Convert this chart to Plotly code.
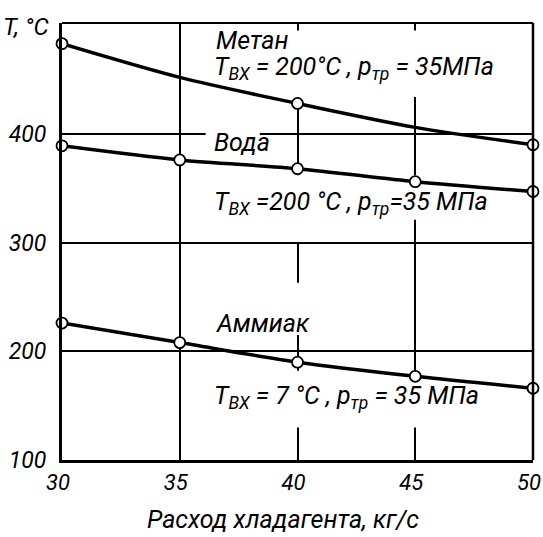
import plotly.graph_objects as go

# Data
x_vals = [30, 35, 40, 45, 50]
metan = [483, 452, 428, 406, 390]
voda = [389, 376, 368, 356, 347]
ammiak = [226, 208, 190, 177, 166]
metan_marked = [0, 2, 4]
voda_marked = [0, 1, 2, 3, 4]
ammiak_marked = [0, 1, 2, 3, 4]

x_ticks = [30, 35, 40, 45, 50]
y_ticks = [100, 200, 300, 400]

FONT = "Roboto, DejaVu Sans"

fig = go.Figure()

for ys, marked in [(metan, metan_marked), (voda, voda_marked), (ammiak, ammiak_marked)]:
    fig.add_trace(go.Scatter(x=x_vals, y=ys, mode="lines",
                             line=dict(color="black", width=3.5, shape="spline", smoothing=0.8),
                             hoverinfo="skip", showlegend=False, cliponaxis=False))
    fig.add_trace(go.Scatter(x=[x_vals[i] for i in marked], y=[ys[i] for i in marked],
                             mode="markers",
                             marker=dict(size=11, color="white", line=dict(color="black", width=1.8)),
                             showlegend=False, cliponaxis=False))

# white masks that break grid lines behind labels
masks = [
    (36.3, 48.8, 434, 495),
    (36.1, 38.4, 381, 404),
    (36.3, 48.8, 321, 362),
    (39.7, 40.3, 300.5, 322),
    (36.3, 40.6, 215, 263),
    (36.3, 48.0, 130, 182),
]
shapes = []
for x0, x1, y0, y1 in masks:
    shapes.append(dict(type="rect", xref="x", yref="y", x0=x0, x1=x1, y0=y0, y1=y1,
                       fillcolor="white", line=dict(width=0), layer="between"))
# top and right frame
shapes.append(dict(type="line", xref="x domain", yref="y domain", x0=0, x1=1, y0=1, y1=1,
                   line=dict(color="black", width=2)))
shapes.append(dict(type="line", xref="x domain", yref="y domain", x0=1, x1=1, y0=0, y1=1,
                   line=dict(color="black", width=2.5)))

tf = dict(family=FONT, size=25, color="black", style="italic")
annotations = [
    dict(x=36.45, y=486, text="Метан", xanchor="left", yanchor="middle"),
    dict(x=36.35, y=460.5, text="T<sub>ВХ</sub> = 200°C , p<sub>тр</sub> = 35МПа", xanchor="left", yanchor="middle"),
    dict(x=36.35, y=392.5, text="Вода", xanchor="left", yanchor="middle"),
    dict(x=36.35, y=336, text="T<sub>ВХ</sub> =200 °C , p<sub>тр</sub>=35 МПа", xanchor="left", yanchor="middle"),
    dict(x=36.45, y=226, text="Аммиак", xanchor="left", yanchor="middle"),
    dict(x=36.35, y=158, text="T<sub>ВХ</sub> = 7 °C , p<sub>тр</sub> = 35 МПа", xanchor="left", yanchor="middle"),
]
for a in annotations:
    a.update(xref="x", yref="y", showarrow=False, font=tf)
annotations.append(dict(xref="paper", yref="paper", x=0.469, y=-0.137, text="Расход хладагента, кг/с",
                        showarrow=False, font=tf, xanchor="center", yanchor="middle"))
annotations.append(dict(xref="paper", yref="paper", x=-0.13, y=0.991, text="T, °C",
                        showarrow=False, font=dict(family=FONT, size=24, color="black", style="italic"),
                        xanchor="left", yanchor="middle"))

fig.update_layout(
    width=543, height=537,
    margin=dict(l=62, r=10, t=23, b=77, autoexpand=False),
    plot_bgcolor="white", paper_bgcolor="white",
    shapes=shapes, annotations=annotations,
    font=dict(family=FONT, size=22, color="black", style="italic"),
)
fig.update_xaxes(range=[30, 50], tickvals=x_ticks, ticktext=[str(v) for v in x_ticks],
                 showgrid=True, gridcolor="black", gridwidth=1.5,
                 showline=True, linecolor="black", linewidth=3, ticks="", zeroline=False,
                 tickfont=dict(family=FONT, size=22, style="italic"), ticklabelstandoff=1,
                 ticklabelshift=-4, ticklabeloverflow="allow", automargin=False)
fig.update_yaxes(range=[100, 502], tickvals=y_ticks, ticktext=[str(v) for v in y_ticks],
                 showgrid=True, gridcolor="black", gridwidth=1.5,
                 showline=True, linecolor="black", linewidth=3, ticks="", zeroline=False,
                 tickfont=dict(family=FONT, size=23, style="italic"), ticklabelstandoff=8,
                 ticklabeloverflow="allow", automargin=False)

fig.write_html("out.html", config={"displayModeBar": False},
               post_script="document.body.style.margin='0';")
